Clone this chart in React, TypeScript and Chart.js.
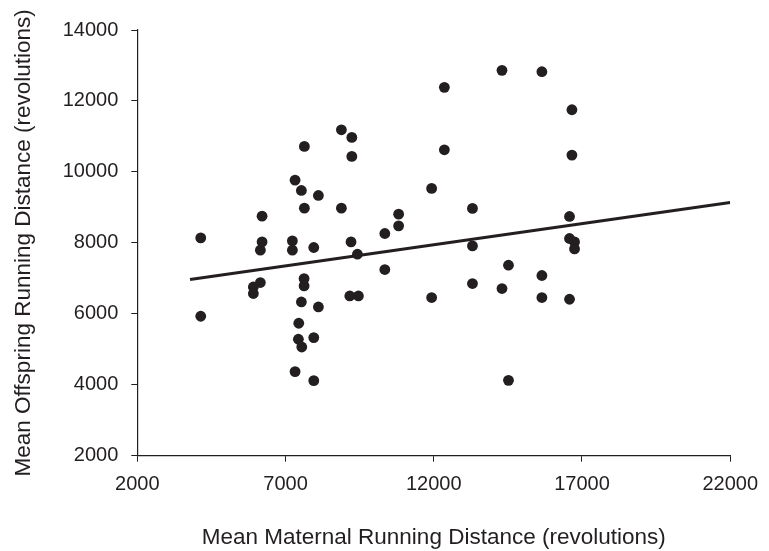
import React, { useEffect, useRef } from "react";
import { Chart, registerables } from "chart.js";

Chart.register(...registerables);

// Mean maternal running distance (x) and mean offspring running distance (y)
const maternal: number[] = [
  4140, 4140, 5915, 5915, 6151, 6151, 6209, 6209, 7231, 7231,
  7322, 7322, 7434, 7447, 7535, 7535, 7548, 7626, 7626, 7636,
  7636, 7953, 7953, 7953, 8109, 8109, 8885, 8885, 9210, 9168,
  9236, 9236, 9425, 9459, 10350, 10350, 10815, 10815, 11929, 11929,
  12358, 12358, 13306, 13306, 13306, 14302, 14302, 14521, 14521, 15648,
  15648, 15648, 16661, 16661, 16580, 16580, 16749, 16749, 16580,
];
const offspring: number[] = [
  8140, 5931, 6757, 6571, 6881, 7793, 8027, 8752, 8055, 7793,
  9768, 4370, 5282, 5733, 9477, 6334, 5064, 6994, 6786, 10719,
  8978, 7869, 5330, 4116, 9336, 6193, 11187, 8978, 8027, 6503,
  10973, 10437, 7680, 6503, 8264, 7248, 8809, 8479, 9534, 6458,
  12384, 10623, 8970, 7914, 6853, 12863, 6712, 7370, 4125, 12824,
  7079, 6458, 11752, 10473, 8744, 8123, 8027, 7830, 6410,
];

// Fitted regression line end points
const trendX: number[] = [3779, 22000];
const trendY: number[] = [6966, 9139];

const xTicks: number[] = [2000, 7000, 12000, 17000, 22000];
const yTicks: number[] = [2000, 4000, 6000, 8000, 10000, 12000, 14000];

const xTitle = "Mean Maternal Running Distance (revolutions)";
const yTitle = "Mean Offspring Running Distance (revolutions)";

const INK = "#231f20";
const FONT = "'Liberation Sans', Arial, Helvetica, sans-serif";

export default function App() {
  const ref = useRef<HTMLCanvasElement | null>(null);

  useEffect(() => {
    if (!ref.current) return;
    const points = maternal.map((x, i) => ({ x, y: offspring[i] }));
    const trend = trendX.map((x, i) => ({ x, y: trendY[i] }));

    const chart = new Chart(ref.current, {
      type: "scatter",
      data: {
        datasets: [
          {
            type: "line",
            data: trend,
            borderColor: INK,
            borderWidth: 3,
            pointRadius: 0,
            showLine: true,
            fill: false,
            order: 2,
          } as any,
          {
            data: points,
            backgroundColor: INK,
            borderColor: INK,
            borderWidth: 0,
            pointRadius: 5.4,
            order: 1,
          },
        ],
      },
      options: {
        responsive: false,
        animation: false,
        devicePixelRatio: 1,
        layout: { padding: { left: 0, right: 31.7, top: 30, bottom: 0 } },
        plugins: {
          legend: { display: false },
          tooltip: { enabled: false },
        },
        scales: {
          x: {
            type: "linear",
            min: xTicks[0],
            max: xTicks[xTicks.length - 1],
            afterBuildTicks: (s: any) => {
              s.ticks = xTicks.map((v) => ({ value: v }));
            },
            afterFit: (s: any) => {
              s.height = 551 - 455.7;
            },
            ticks: {
              color: INK,
              font: { family: FONT, size: 20 },
              padding: 11,
              maxRotation: 0,
              autoSkip: false,
              callback: (v: any) => String(v),
            },
            grid: {
              drawOnChartArea: false,
              drawTicks: true,
              tickLength: 6,
              color: INK,
              lineWidth: 1,
            },
            border: { display: true, color: INK, width: 1.2 },
            title: {
              display: true,
              text: xTitle,
              color: INK,
              font: { family: FONT, size: 22.5 },
              padding: { top: 0, bottom: 0 },
            },
          },
          y: {
            type: "linear",
            min: yTicks[0],
            max: yTicks[yTicks.length - 1],
            afterBuildTicks: (s: any) => {
              s.ticks = yTicks.map((v) => ({ value: v }));
            },
            afterFit: (s: any) => {
              s.width = 137.3;
            },
            ticks: {
              color: INK,
              font: { family: FONT, size: 20 },
              padding: 13,
              autoSkip: false,
              callback: (v: any) => String(v),
            },
            grid: {
              drawOnChartArea: false,
              drawTicks: true,
              tickLength: 6,
              color: INK,
              lineWidth: 1,
            },
            border: { display: true, color: INK, width: 1.2 },
            title: {
              display: true,
              text: yTitle,
              color: INK,
              font: { family: FONT, size: 22.5 },
              padding: { top: 10, bottom: 0 },
            },
          },
        },
      },
    });
    return () => chart.destroy();
  }, []);

  return (
    <div
      style={{
        position: "fixed",
        left: 0,
        top: 0,
        width: 769,
        height: 551,
        background: "#ffffff",
      }}
    >
      <canvas ref={ref} width={769} height={551} />
    </div>
  );
}
